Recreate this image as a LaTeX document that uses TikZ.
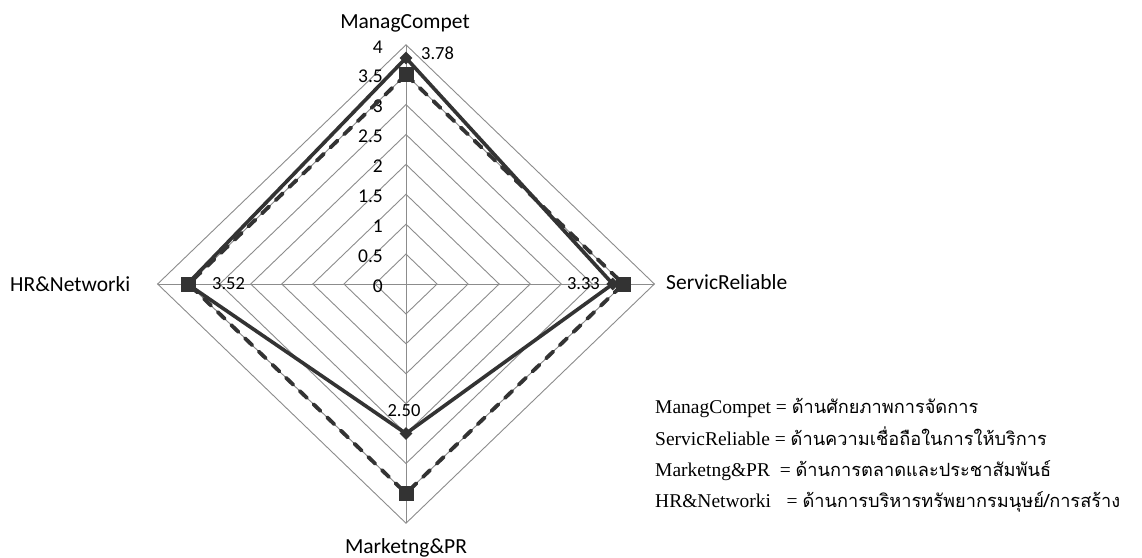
\documentclass[tikz,border=0pt]{standalone}
\usepackage{fontspec}
\setmainfont{Liberation Serif}
\newfontfamily\calfont{Carlito}
\newfontfamily\thaifont[Script=Thai]{Loma}
\usetikzlibrary{shapes.geometric}
\definecolor{gridgray}{HTML}{8C8C8C}
\definecolor{serdark}{HTML}{333333}
\newcommand\thaitext[1]{{\thaifont\fontsize{18.2}{22}\selectfont #1}}
\tikzset{
  gridline/.style={draw=gridgray, line width=0.9pt},
  seriessolid/.style={draw=serdark, line width=3.6pt, line join=miter},
  seriesdash/.style={draw=serdark, line width=3.8pt, line cap=round, dash pattern=on 10pt off 9pt},
  sqmark/.style={rectangle, fill=serdark, minimum size=15pt, inner sep=0pt},
  dmmark/.style={diamond, fill=serdark, minimum size=13pt, inner sep=0pt},
  ticklab/.style={font=\calfont\fontsize{19.5}{21}\selectfont, inner sep=0pt, anchor=east},
  datalab/.style={font=\calfont\fontsize{18.5}{20}\selectfont, inner sep=0pt},
  catlab/.style={font=\calfont\fontsize{21.5}{24}\selectfont, inner sep=0pt},
  legendlab/.style={font=\fontsize{19.5}{22}\selectfont, inner sep=0pt, anchor=base west},
}
\begin{document}
\begin{tikzpicture}[x=1pt,y=-1pt]
\useasboundingbox (0,0) rectangle (1142,557);
\fill[white] (0,0) rectangle (1142,557);
\def\cx{406}\def\cy{284}\def\ux{62.1}\def\uy{59.8}
% grid
\foreach \r in {0.5,1,...,4}
  \draw[gridline] ({\cx+\r*\ux},\cy) -- (\cx,{\cy-\r*\uy}) -- ({\cx-\r*\ux},\cy) -- (\cx,{\cy+\r*\uy}) -- cycle;
\coordinate (axL) at ({\cx-4*\ux},\cy);
\coordinate (axR) at ({\cx+4*\ux},\cy);
\coordinate (axT) at (\cx,{\cy-4*\uy});
\coordinate (axB) at (\cx,{\cy+4*\uy});
\draw[gridline] (axL) -- (axR);
\draw[gridline] (axT) -- (axB);
% tick labels
\foreach \v [count=\i] in {0,0.5,1,1.5,2,2.5,3,3.5,4}
  \node[ticklab] (tick\i) at (383,{\cy-\v*\uy+2}) {\v};
% series coordinates
\coordinate (A1) at (\cx,{\cy-3.78*\uy});
\coordinate (B1) at ({\cx+3.33*\ux},\cy);
\coordinate (C1) at (\cx,{\cy+2.50*\uy});
\coordinate (D1) at ({\cx-3.52*\ux},\cy);
\coordinate (A2) at (\cx,{\cy-3.5*\uy});
\coordinate (B2) at ({\cx+3.5*\ux},\cy);
\coordinate (C2) at (\cx,{\cy+3.5*\uy});
\coordinate (D2) at ({\cx-3.5*\ux},\cy);
% series 2 dashed
\draw[seriesdash] (A2) -- (B2) -- (C2) -- (D2) -- cycle;
% series 1 solid
\draw[seriessolid] (A1) -- (B1) -- (C1) -- (D1) -- cycle;
\foreach \p in {A1,B1,C1,D1} \node[dmmark] (dm\p) at (\p) {};
\foreach \p in {A2,B2,C2,D2} \node[sqmark] (sq\p) at (\p) {};
% data labels
\node[datalab, anchor=west] (lA) at (421,53) {3.78};
\node[datalab, anchor=east] (lB) at (600,284) {3.33};
\node[datalab, anchor=south] (lC) at (404,417) {2.50};
\node[datalab, anchor=west] (lD) at (212,284) {3.52};
% category labels
\node[catlab, anchor=base] (cA) at (405,28) {ManagCompet};
\node[catlab, anchor=base west] (cB) at (666,289) {ServicReliable};
\node[catlab, anchor=base] (cC) at (406,553) {Marketng\&PR};
\node[catlab, anchor=base west] (cD) at (10,291) {HR\&Networki};
% legend
\node[legendlab] (lg1) at (655,413) {ManagCompet = \thaitext{ด้านศักยภาพการจัดการ}};
\node[legendlab] (lg2) at (655,445) {ServicReliable = \thaitext{ด้านความเชื่อถือในการให้บริการ}};
\node[legendlab] (lg3) at (655,476) {Marketng\&PR\ \ = \thaitext{ด้านการตลาดและประชาสัมพันธ์}};
\node[legendlab] (lg4) at (655,507) {HR\&Networki\hspace{0.8em}= \thaitext{ด้านการบริหารทรัพยากรมนุษย์/การสร้าง}};
\end{tikzpicture}
\end{document}
